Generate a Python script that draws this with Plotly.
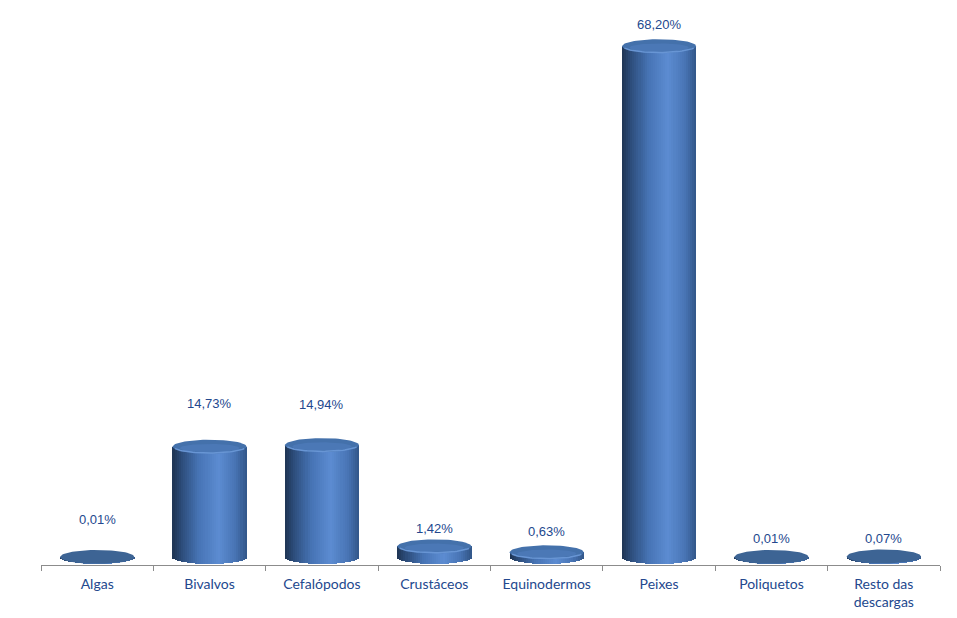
import numpy as np
import plotly.graph_objects as go

categories = ["Algas", "Bivalvos", "Cefalópodos", "Crustáceos", "Equinodermos",
              "Peixes", "Poliquetos", "Resto das<br>descargas"]
values = [0.01, 14.73, 14.94, 1.42, 0.63, 68.20, 0.01, 0.07]
# vertical pixel offset of each data label above the cylinder top (style)
label_dy = [37, 43, 41, 18, 21, 22, 18, 18]

PX_PER_UNIT = 7.49
W = 0.66                  # cylinder width in category units
B = 7.0 / PX_PER_UNIT     # ellipse semi-height in data units
A = W / 2

stops = [(0.0, (30, 52, 82)), (0.12, (44, 76, 122)), (0.35, (70, 115, 180)),
         (0.62, (92, 140, 210)), (0.85, (72, 116, 180)), (1.0, (50, 86, 136))]


def grad(u):
    for (u0, c0), (u1, c1) in zip(stops[:-1], stops[1:]):
        if u0 <= u <= u1:
            t = (u - u0) / (u1 - u0)
            return "rgb(%d,%d,%d)" % tuple(round(a + (b - a) * t) for a, b in zip(c0, c1))
    return "rgb(%d,%d,%d)" % stops[-1][1]


x = list(range(len(categories)))
fig = go.Figure()

N = 36
for k in range(N):
    u = (k + 0.5) / N
    dy = B * np.sqrt(max(0.0, 1 - (2 * u - 1) ** 2))
    fig.add_trace(go.Bar(
        x=x, y=[v + dy for v in values], base=[-dy] * len(values),
        width=W / N * 1.15, offset=-W / 2 + k * W / N,
        marker=dict(color=grad(u), line=dict(width=0)),
        hoverinfo="skip", showlegend=False))

t = np.linspace(0, 2 * np.pi, 80)
for i, v in enumerate(values):
    ex = i + A * np.cos(t)
    ey = v + B * np.sin(t)
    top_col = "#4471ab" if v > 0.3 else "#3d6494"
    fig.add_trace(go.Scatter(x=ex, y=ey, mode="lines", fill="toself",
                             fillcolor=top_col, line=dict(width=0, color=top_col),
                             hoverinfo="skip", showlegend=False))
    if v > 0.3:
        fig.add_trace(go.Scatter(x=i + A * 0.8 * np.cos(t), y=v - B * 0.2 + B * 0.6 * np.sin(t),
                                 mode="lines", fill="toself", fillcolor="rgba(80,125,190,0.6)",
                                 line=dict(width=0), hoverinfo="skip", showlegend=False))
        ta = np.linspace(np.pi * 1.1, np.pi * 1.9, 40)
        fig.add_trace(go.Scatter(x=i + A * 0.98 * np.cos(ta), y=v + B * 0.9 * np.sin(ta),
                                 mode="lines", line=dict(width=1.5, color="rgba(120,165,230,0.7)"),
                                 hoverinfo="skip", showlegend=False))

for i, v in enumerate(values):
    fig.add_annotation(x=i, y=v, yshift=label_dy[i], showarrow=False,
                       text=("%.2f" % v).replace(".", ",") + "%",
                       font=dict(family="Liberation Sans, Arial", size=13, color="#23488e"))

fig.update_layout(
    width=957, height=618, barmode="overlay", bargap=0,
    paper_bgcolor="white", plot_bgcolor="white",
    margin=dict(l=33, r=25, t=12, b=61),
    xaxis=dict(range=[-0.5, 7.5], tickvals=x, ticktext=categories, ticks="",
               showgrid=False, zeroline=False, showline=True, linecolor="#8c8c8c",
               linewidth=1, ticklabelstandoff=6,
               tickfont=dict(family="Lato, Calibri, sans-serif", size=14, color="#23488e"),
               minor=dict(tick0=-0.5, dtick=1, ticks="outside", ticklen=5,
                          tickcolor="#8c8c8c", showgrid=False)),
    yaxis=dict(range=[-8 / PX_PER_UNIT, 537 / PX_PER_UNIT], visible=False, fixedrange=True),
)

fig.write_html("out.html")
